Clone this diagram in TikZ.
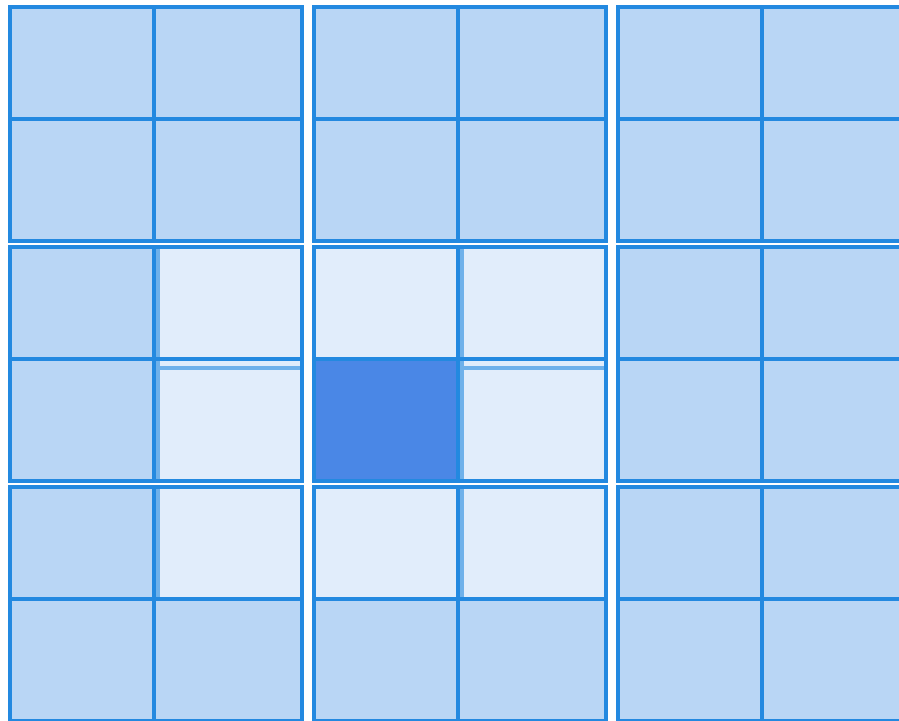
\documentclass[tikz,border=0pt]{standalone}
\usetikzlibrary{positioning}

\definecolor{gridline}{HTML}{2389E0}
\definecolor{cellbase}{HTML}{B9D6F5}
\definecolor{cellnear}{HTML}{E1EDFB}
\definecolor{celltarget}{HTML}{4A87E6}

% fine cell (column, row, style): blocks of 2x2 cells, 304 x 240 apart
\newcommand{\finecell}[3]{%
  \pgfmathsetmacro{\xl}{10+304*floor(#1/2)+144*mod(#1,2)}%
  \pgfmathsetmacro{\xr}{\xl+144+4*mod(#1,2)}%
  \pgfmathsetmacro{\yt}{7+240*floor(#2/2)+112*mod(#2,2)}%
  \pgfmathsetmacro{\yb}{\yt+112+10*mod(#2,2)}%
  \draw[#3] (\xl,\yt) rectangle (\xr,\yb);%
}

\begin{document}
\begin{tikzpicture}[
  x=1pt, y=-1pt,
  cell/.style={draw=gridline, line width=3.8pt, fill=cellbase},
  near/.style={cell, fill=cellnear},
  target/.style={cell, fill=celltarget},
  shade/.style={draw=gridline, opacity=0.6, line width=4pt}
]
\useasboundingbox (0,0) rectangle (899,720);
\clip (0,0) rectangle (899,720);

% base grid
\foreach \c in {0,...,5}
  \foreach \r in {0,...,5}
    {\finecell{\c}{\r}{cell}}

% neighbours and the picked cell
\foreach \c/\r in {1/2,2/2,3/2,1/3,3/3,1/4,2/4,3/4}
  {\finecell{\c}{\r}{near}}
\finecell{2}{3}{target}

% inner edges of the neighbour cells
\draw[shade] (158,249) -- (158,479);
\draw[shade] (158,489) -- (158,597);
\draw[shade] (462,249) -- (462,479);
\draw[shade] (462,489) -- (462,597);
\draw[shade] (160,367.5) -- (300,367.5);
\draw[shade] (464,367.5) -- (604,367.5);
\end{tikzpicture}
\end{document}
